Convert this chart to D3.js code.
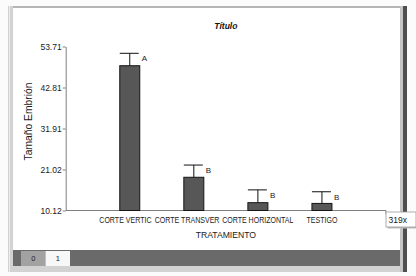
<!DOCTYPE html>
<html><head><meta charset="utf-8">
<script src="https://cdn.jsdelivr.net/npm/d3@7"></script>
<style>body{margin:0;background:#fff}svg{display:block}text{font-family:"Liberation Sans",Arial,sans-serif}</style>
</head><body>
<svg id="c" width="416" height="276"></svg>
<script>
const categories = ["CORTE VERTICAL","CORTE TRANSVERSAL","CORTE HORIZONTAL","TESTIGO"];
const means = [48.6, 18.95, 12.2, 12.0];
const errors = [3.3, 3.25, 3.4, 3.1];
const letters = ["A","B","B","B"];
const yTicks = [10.12, 21.02, 31.91, 42.81, 53.71];
const tabs = ["0","1"];

const svg = d3.select("#c");
// frame
svg.append("rect").attr("x",0).attr("y",0).attr("width",416).attr("height",276).attr("fill","#fbfbfb");
svg.append("rect").attr("x",8).attr("y",6).attr("width",399).attr("height",266).attr("fill","#d2d2d2");
svg.append("rect").attr("x",13).attr("y",8).attr("width",387).attr("height",258).attr("fill","#ffffff");
svg.append("rect").attr("x",13).attr("y",6).attr("width",388).attr("height",2).attr("fill","#b5b5b5");
svg.append("rect").attr("x",9).attr("y",6).attr("width",1).attr("height",266).attr("fill","#ececec");
svg.append("rect").attr("x",403).attr("y",6).attr("width",4).attr("height",266).attr("fill","#4e4e4e");
svg.append("rect").attr("x",400).attr("y",6).attr("width",3).attr("height",266).attr("fill","#c4c4c4");

// tab bar
svg.append("rect").attr("x",13).attr("y",250).attr("width",387).attr("height",16).attr("fill","#6a6a6a");
const tabX = d3.scaleBand().domain(tabs).range([21,70]);
const tg = svg.selectAll("g.tab").data(tabs).join("g").attr("class","tab");
tg.append("rect").attr("x",d=>tabX(d)).attr("y",251).attr("width",tabX.bandwidth()).attr("height",15)
  .attr("fill",(d,i)=>i===0?"#a2a2a2":"#f7f7f7");
tg.append("text").attr("x",d=>tabX(d)+tabX.bandwidth()/2).attr("y",261).attr("text-anchor","middle")
  .attr("font-size",7.5).attr("font-family","DejaVu Sans Mono, monospace").attr("fill","#222").text(d=>d);

// scales
const x = d3.scalePoint().domain(categories).range([65.7,386]).padding(1);
const y = d3.scaleLinear().domain([10.12,53.71]).range([210.5,46.5]);
const bw = 20;

// y axis
const ya = svg.append("g").attr("transform","translate(65.7,0)")
  .call(d3.axisLeft(y).tickValues(yTicks).tickFormat(d3.format(".2f")).tickSize(3).tickSizeOuter(0));
ya.select(".domain").attr("stroke","#808080");
ya.selectAll(".tick line").attr("stroke","#808080");
ya.selectAll(".tick text").attr("font-size",8.5).attr("fill","#1a1a1a").attr("x",-4).attr("font-family","Liberation Sans, Arial");

// x axis line
const [x0,x1] = x.range();
svg.append("path").attr("d",`M${x0},${y(10.12)}H${x1}v4`).attr("fill","none").attr("stroke","#808080");

// bars
svg.selectAll("rect.bar").data(categories).join("rect").attr("class","bar")
  .attr("x",d=>x(d)-bw/2).attr("width",bw)
  .attr("y",(d,i)=>y(means[i])).attr("height",(d,i)=>y(10.12)-y(means[i]))
  .attr("fill","#575757").attr("stroke","#151515").attr("stroke-width",1);
// error bars
svg.selectAll("path.err").data(categories).join("path").attr("class","err")
  .attr("d",(d,i)=>`M${x(d)},${y(means[i])}V${y(means[i]+errors[i])}M${x(d)-bw/2},${y(means[i]+errors[i])}H${x(d)+bw/2-1}`)
  .attr("stroke","#111").attr("fill","none");
svg.selectAll("text.let").data(categories).join("text").attr("class","let")
  .attr("x",d=>x(d)+bw/2+2).attr("y",(d,i)=>y(means[i]+errors[i])+8)
  .attr("font-size",8).attr("fill","#1a1a1a").text((d,i)=>letters[i]);

// x labels: each label is cut where the next one begins (as in the reference)
const ly = 223, sx = 0.83, lfs = 8.5;
const meas = svg.append("text").attr("font-size",lfs);
const fullW = categories.map(c=>{ meas.text(c); return meas.node().getComputedTextLength()*sx; });
meas.remove();
const lefts = categories.map((c,i)=>x(c)-fullW[i]/2);
categories.forEach((c,i)=>{
  const limit = i<categories.length-1 ? lefts[i+1]-0.5 : Infinity;
  const g = svg.append("g").attr("transform",`translate(${lefts[i]},${ly}) scale(${sx},1)`);
  const t = g.append("text").attr("font-size",lfs).attr("fill","#1a1a1a").text(c);
  let s = c;
  while (s.length>1 && lefts[i] + t.node().getComputedTextLength()*sx > limit) { s = s.slice(0,-1); t.text(s); }
});

// titles
svg.append("text").attr("x",(x0+x1)/2).attr("y",29).attr("text-anchor","middle")
  .attr("font-size",8.5).attr("font-weight","bold").attr("font-style","italic").attr("fill","#111").text("Título");
svg.append("text").attr("transform",`translate(${(x0+x1)/2},237.5) scale(0.88,1)`).attr("text-anchor","middle")
  .attr("font-size",9.8).attr("fill","#1a1a1a").text("TRATAMIENTO");
svg.append("text").attr("transform",`translate(31.5,${(y(10.12)+y(53.71))/2-7}) rotate(-90)`).attr("text-anchor","middle")
  .attr("font-size",10.3).attr("fill","#1a1a1a").text("Tamaño Embrión");

// tooltip
svg.append("rect").attr("x",x1+1.5).attr("y",213.5).attr("width",30).attr("height",15).attr("fill","#bdbdbd");
svg.append("rect").attr("x",x1).attr("y",212).attr("width",30).attr("height",15).attr("fill","#fff").attr("stroke","#9a9a9a").attr("stroke-width",0.8);
svg.append("text").attr("x",x1+2.5).attr("y",223).attr("font-size",8.5).attr("fill","#1a1a1a").text("319x");
</script>
</body></html>
